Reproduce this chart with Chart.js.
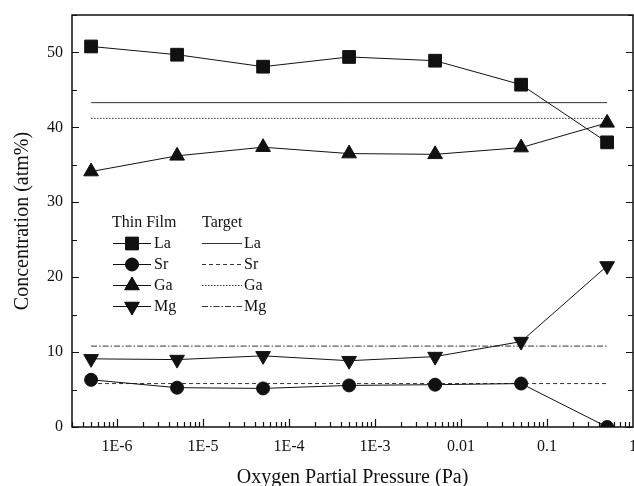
<!DOCTYPE html>
<html>
<head>
<meta charset="utf-8">
<title>Concentration vs oxygen partial pressure</title>
<script src="https://cdn.jsdelivr.net/npm/chart.js@4.4.1/dist/chart.umd.min.js"></script>
<style>
  html, body { margin: 0; padding: 0; background: #fff; }
  canvas { display: block; }
</style>
</head>
<body>
<canvas id="chart" width="634" height="486"></canvas>
<script>
// oxygen partial pressure of each deposition (Pa)
const pressure = [5e-7, 5e-6, 5e-5, 5e-4, 5e-3, 5e-2, 5e-1];

// thin film composition (atm%)
const filmLa = [50.8, 49.7, 48.1, 49.4, 48.9, 45.7, 38.0];
const filmSr = [6.3, 5.25, 5.15, 5.55, 5.65, 5.8, 0];
const filmGa = [34.1, 36.2, 37.35, 36.5, 36.4, 37.3, 40.6];
const filmMg = [9.1, 9.0, 9.5, 8.85, 9.4, 11.4, 21.5];

// target composition (atm%), drawn across the measured pressure range
const targetSpan = [5e-7, 5e-1];
const targetLa = 43.3;
const targetSr = 5.8;
const targetGa = 41.2;
const targetMg = 10.8;

const elements = ['La', 'Sr', 'Ga', 'Mg'];
const xMajor = [1e-6, 1e-5, 1e-4, 1e-3, 1e-2, 1e-1, 1];
const xTickLabels = ['1E-6', '1E-5', '1E-4', '1E-3', '0.01', '0.1', '1'];

const serif = "'Liberation Serif', 'Times New Roman', serif";
const ink = '#111';

const markers = {
  La: { pointStyle: 'rect', radius: 9, rotation: 0 },
  Sr: { pointStyle: 'circle', radius: 6.5, rotation: 0 },
  Ga: { pointStyle: 'triangle', radius: 8.5, rotation: 0 },
  Mg: { pointStyle: 'triangle', radius: 8.5, rotation: 180 }
};
const dashes = { La: [], Sr: [4, 3], Ga: [1.5, 1.5], Mg: [6, 2, 1.5, 2] };

const film = { La: filmLa, Sr: filmSr, Ga: filmGa, Mg: filmMg };
const target = { La: targetLa, Sr: targetSr, Ga: targetGa, Mg: targetMg };

// log axis ticks: every 1..9 multiple from 3E-7 up to 1
const xTicks = [];
for (let e = -7; e <= -1; e++) {
  for (let m = 1; m <= 9; m++) {
    const v = m * Math.pow(10, e);
    if (v >= 2.9e-7) xTicks.push(v);
  }
}
xTicks.push(1);

function isMajor(v) {
  return xMajor.some(m => Math.abs(Math.log10(v) - Math.log10(m)) < 1e-6);
}
function majorLabel(v) {
  const i = xMajor.findIndex(m => Math.abs(Math.log10(v) - Math.log10(m)) < 1e-6);
  return i < 0 ? '' : xTickLabels[i];
}

const datasets = [];
elements.forEach(el => {
  datasets.push({
    label: el + ' film',
    data: pressure.map((p, i) => ({ x: p, y: film[el][i] })),
    borderColor: ink,
    backgroundColor: ink,
    borderWidth: 1,
    pointStyle: markers[el].pointStyle,
    pointRadius: markers[el].radius,
    pointRotation: markers[el].rotation,
    pointBorderWidth: 1,
    pointBorderColor: ink,
    pointBackgroundColor: ink,
    tension: 0,
    clip: 0,
    order: 0
  });
});
elements.forEach(el => {
  datasets.push({
    label: el + ' target',
    data: targetSpan.map(p => ({ x: p, y: target[el] })),
    borderColor: '#333',
    borderWidth: 1,
    borderDash: dashes[el],
    pointRadius: 0,
    clip: 0,
    order: 1
  });
});

// box frame with inward tick marks on bottom, left and right
const framePlugin = {
  id: 'frame',
  afterDatasetsDraw(chart) {
    const { ctx, chartArea: a, scales: { x, y } } = chart;
    ctx.save();
    ctx.strokeStyle = ink;
    ctx.lineWidth = 1.5;
    ctx.strokeRect(a.left, a.top, a.right - a.left, a.bottom - a.top);
    ctx.lineWidth = 1.2;
    ctx.beginPath();
    y.ticks.forEach(t => {
      const py = Math.round(y.getPixelForValue(t.value)) + 0.5;
      const len = t.value % 10 === 0 ? 7 : 5;
      ctx.moveTo(a.left, py); ctx.lineTo(a.left + len, py);
      ctx.moveTo(a.right, py); ctx.lineTo(a.right - len, py);
    });
    xTicks.forEach(v => {
      const px = Math.round(x.getPixelForValue(v)) + 0.5;
      if (px < a.left || px > a.right) return;
      const len = isMajor(v) ? 8 : 5;
      ctx.moveTo(px, a.bottom); ctx.lineTo(px, a.bottom - len);
    });
    ctx.stroke();
    ctx.restore();
  }
};

// two-column key: film markers and target line styles
const keyPlugin = {
  id: 'key',
  afterDraw(chart) {
    const ctx = chart.ctx;
    ctx.save();
    ctx.font = '16px ' + serif;
    ctx.fillStyle = ink;
    ctx.textBaseline = 'middle';
    ctx.textAlign = 'left';
    ctx.fillText('Thin Film', 112, 223);
    ctx.fillText('Target', 202, 223);
    elements.forEach((el, i) => {
      const ry = 243.5 + i * 21;
      ctx.strokeStyle = ink;
      ctx.lineWidth = 1;
      ctx.setLineDash([]);
      ctx.beginPath();
      ctx.moveTo(113, ry); ctx.lineTo(151, ry);
      ctx.stroke();
      ctx.fillStyle = ink;
      Chart.helpers.drawPoint(ctx, {
        pointStyle: markers[el].pointStyle,
        radius: markers[el].radius,
        rotation: markers[el].rotation,
        borderWidth: 1
      }, 132, ry);
      ctx.fill();
      ctx.fillText(el, 154, ry);
      ctx.strokeStyle = '#333';
      ctx.setLineDash(dashes[el]);
      ctx.beginPath();
      ctx.moveTo(202, ry); ctx.lineTo(242, ry);
      ctx.stroke();
      ctx.setLineDash([]);
      ctx.fillText(el, 244, ry);
    });
    ctx.restore();
  }
};

new Chart(document.getElementById('chart'), {
  type: 'line',
  data: { datasets },
  options: {
    responsive: false,
    animation: false,
    layout: { autoPadding: false, padding: { top: 15, right: 1, left: 0, bottom: 0 } },
    plugins: { legend: { display: false }, tooltip: { enabled: false } },
    scales: {
      x: {
        type: 'logarithmic',
        min: 3e-7,
        max: 1,
        afterBuildTicks: s => { s.ticks = xTicks.map(v => ({ value: v })); },
        afterFit: s => { s.height = 59; s.paddingLeft = 0; s.paddingRight = 0; },
        grid: { display: false, drawTicks: false },
        border: { display: false },
        ticks: {
          autoSkip: false,
          maxRotation: 0,
          padding: 10,
          color: ink,
          font: { family: serif, size: 16 },
          callback: v => majorLabel(v)
        },
        title: {
          display: true,
          text: 'Oxygen Partial Pressure (Pa)',
          color: ink,
          font: { family: serif, size: 20 },
          padding: { top: 0, bottom: -4 }
        }
      },
      y: {
        min: 0,
        max: 55,
        afterFit: s => { s.width = 72; s.paddingTop = 0; s.paddingBottom = 0; },
        grid: { display: false, drawTicks: false },
        border: { display: false },
        ticks: {
          stepSize: 5,
          padding: 9,
          color: ink,
          font: { family: serif, size: 16 },
          callback: v => (v % 10 === 0 ? String(v) : '')
        },
        title: {
          display: true,
          text: 'Concentration (atm%)',
          color: ink,
          font: { family: serif, size: 20 },
          padding: { top: 11, bottom: 0 }
        }
      }
    }
  },
  plugins: [framePlugin, keyPlugin]
});
</script>
</body>
</html>
